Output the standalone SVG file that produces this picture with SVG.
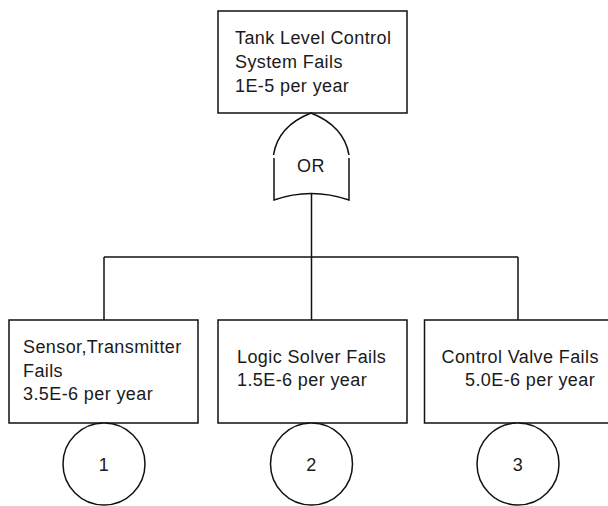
<svg xmlns="http://www.w3.org/2000/svg" width="608" height="506" viewBox="0 0 608 506">
<style>
.b{fill:#fff;stroke:#111;stroke-width:1.5}
.c{fill:none;stroke:#111;stroke-width:1.5}
.t{font-family:"Liberation Sans",Arial,sans-serif;font-size:18px;letter-spacing:0.4px;fill:#1a1a1a}
.m{text-anchor:middle}
</style>
<rect width="608" height="506" fill="#fff"/>
<g id="connectors">
<line class="c" x1="311.5" y1="193.5" x2="311.5" y2="257"/>
<line class="c" x1="104" y1="257" x2="518" y2="257"/>
<line class="c" x1="104" y1="257" x2="104" y2="320"/>
<line class="c" x1="311.5" y1="257" x2="311.5" y2="320"/>
<line class="c" x1="518" y1="257" x2="518" y2="320"/>
</g>
<g id="top">
<rect class="b" x="218" y="11" width="189" height="102"/>
<text class="t" x="235" y="44">Tank Level Control</text>
<text class="t" x="235" y="68">System Fails</text>
<text class="t" x="235" y="92">1E-5 per year</text>
</g>
<g id="or-gate">
<path class="c" d="M273.5,155 Q278,126 311,113 Q344,126 349,155"/>
<path class="c" d="M274,158 L274,200 Q311,187 349,200 L349,158"/>
<text class="t m" x="311" y="172">OR</text>
</g>
<g id="sensor">
<rect class="b" x="9" y="320" width="189" height="103"/>
<text class="t" x="23" y="353">Sensor,Transmitter</text>
<text class="t" x="23" y="376.5">Fails</text>
<text class="t" x="23" y="400">3.5E-6 per year</text>
</g>
<g id="logic">
<rect class="b" x="218" y="320" width="189" height="103"/>
<text class="t" x="237" y="363">Logic Solver Fails</text>
<text class="t" x="237" y="386">1.5E-6 per year</text>
</g>
<g id="valve">
<rect class="b" x="424.5" y="320" width="190" height="103"/>
<text class="t" x="441.5" y="363">Control Valve Fails</text>
<text class="t" x="465" y="386">5.0E-6 per year</text>
</g>
<g id="event1">
<circle class="b" cx="104" cy="464" r="41"/>
<text class="t m" x="104" y="471">1</text>
</g>
<g id="event2">
<circle class="b" cx="311.5" cy="464" r="41"/>
<text class="t m" x="311.5" y="471">2</text>
</g>
<g id="event3">
<circle class="b" cx="518" cy="464" r="41"/>
<text class="t m" x="518" y="471">3</text>
</g>
</svg>
